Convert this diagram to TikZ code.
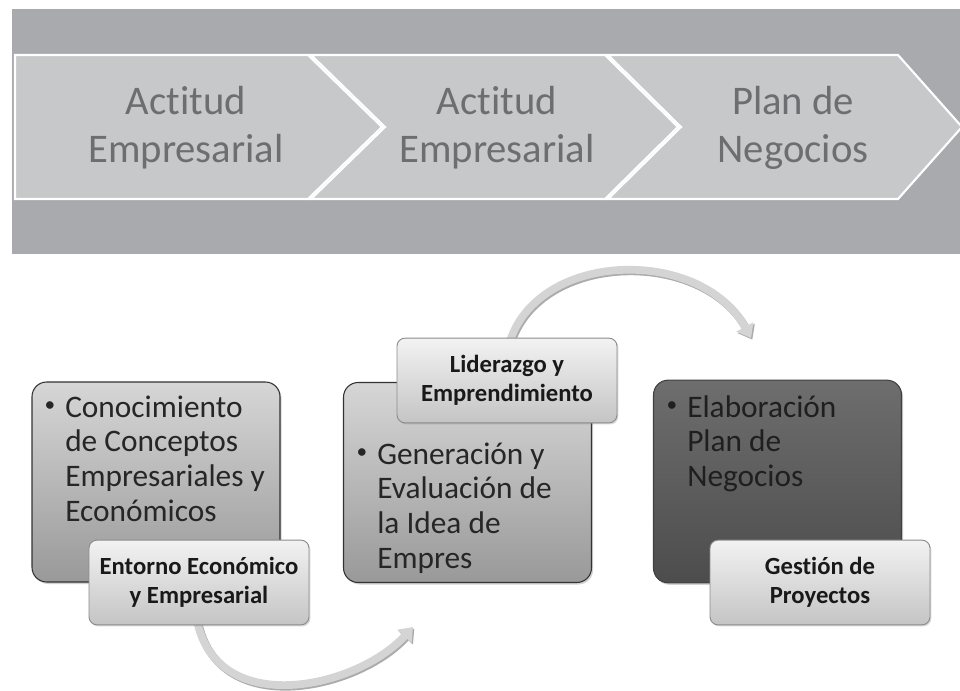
\documentclass[tikz,border=0pt]{standalone}
\usepackage{fontspec}
\setmainfont{Carlito}[Ligatures=NoCommon]
\usetikzlibrary{arrows.meta,shadows}
\definecolor{band}{HTML}{A9AAAD}
\definecolor{chev}{HTML}{C7C8CA}
\definecolor{chevtext}{HTML}{6D6E71}
\definecolor{boxtext}{HTML}{262626}
\definecolor{arrowfill}{HTML}{D4D4D4}
\definecolor{arrowedge}{HTML}{ABABAB}
\tikzset{
  chevshape/.style={fill=chev, draw=white, line width=1.6pt, line join=miter},
  chevlabel/.style={text=chevtext, font=\fontsize{30.5pt}{36pt}\selectfont, inner sep=0pt, anchor=base},
  bigbox/.style={rounded corners=11pt, line width=0.8pt, inner sep=0pt,
     minimum width=186pt, minimum height=150pt,
     drop shadow={shadow xshift=1.2pt, shadow yshift=-1.5pt, opacity=0.35}},
  lightbox/.style={bigbox, draw=black!80, top color=black!16, bottom color=black!40},
  darkbox/.style={bigbox, draw=black!75, top color=black!57, bottom color=black!70},
  boxtxt/.style={text=boxtext, font=\fontsize{23.5pt}{26pt}\selectfont, inner sep=0pt, anchor=base west},
  bullettxt/.style={text=boxtext, font=\fontsize{16pt}{16pt}\selectfont, inner sep=0pt, anchor=center},
  labelbox/.style={rounded corners=6pt, draw=black!45, line width=0.7pt,
     top color=black!5, bottom color=black!23, minimum width=165pt, minimum height=63.5pt,
     align=center, text=black!90, font=\bfseries\fontsize{18.5pt}{22pt}\selectfont, inner sep=0pt,
     drop shadow={shadow xshift=1pt, shadow yshift=-1.2pt, opacity=0.3}},
  curvearrow/.style={line width=5.8pt, draw=arrowfill, -{Triangle[width=14pt,length=9.5pt]}},
  curveshadow/.style={curvearrow, draw=arrowedge, transform canvas={shift={(1.3,1.6)}}}
}
\begin{document}
\begin{tikzpicture}[x=0.75pt,y=-0.75pt]
\useasboundingbox (0,0) rectangle (960,691);
\fill[white] (0,0) rectangle (960,691);
\begin{scope}
  \clip (0,0) rectangle (960,691);
  \fill[band] (12,9) rectangle (965,254);
  \draw[chevshape] (15,55) -- (308,55) -- (382,127) -- (308,199) -- (15,199) -- cycle;
  \draw[chevshape] (311,55) -- (605,55) -- (678,127) -- (605,199) -- (311,199) -- (385,127) -- cycle;
  \draw[chevshape] (608,55) -- (898,55) -- (962,127) -- (898,199) -- (608,199) -- (681,127) -- cycle;
\end{scope}
\node[chevlabel] (c1) at (186,115) {\parbox[t]{220pt}{\centering Actitud\\Empresarial}};
\node[chevlabel] (c2) at (497,115) {\parbox[t]{220pt}{\centering Actitud\\Empresarial}};
\node[chevlabel] (c3) at (793,115) {\parbox[t]{220pt}{\centering Plan de\\Negocios}};

% big boxes
\node[lightbox] (b1) at (156,482) {};
\node[lightbox] (b2) at (467.5,482.5) {};
\node[darkbox, minimum height=152pt] (b3) at (777.5,481.5) {};

\node[bullettxt] (b1d) at (50,407) {•};
\node[boxtxt] (b1t) at (65,417) {\parbox[t]{200pt}{\raggedright Conocimiento\\de Conceptos\\Empresariales y\\Económicos}};
\node[bullettxt] (b2d) at (362,454) {•};
\node[boxtxt] (b2t) at (377,464) {\parbox[t]{200pt}{\raggedright Generación y\\Evaluación de\\la Idea de\\Empres}};
\node[bullettxt, text=black!88] (b3d) at (672,407) {•};
\node[boxtxt, text=black!88] (b3t) at (687,417) {\parbox[t]{200pt}{\raggedright Elaboración\\Plan de\\Negocios}};

% curved arrows
\coordinate (a1s) at (196,615);
\coordinate (a1e) at (413,627);
\coordinate (a2s) at (508,348);
\coordinate (a2e) at (751,338);
\draw[curveshadow] (a1s) .. controls (212,720) and (355,690) .. (a1e);
\draw[curvearrow] (a1s) .. controls (212,720) and (355,690) .. (a1e);
\draw[curveshadow] (a2s) .. controls (532,250) and (700,245) .. (a2e);
\draw[curvearrow] (a2s) .. controls (532,250) and (700,245) .. (a2e);

% label boxes
\node[labelbox] (l1) at (199,582.5) {Entorno Económico\\y Empresarial};
\node[labelbox] (l2) at (507,380.5) {Liderazgo y\\Emprendimiento};
\node[labelbox] (l3) at (820,582.5) {Gestión de\\Proyectos};
\end{tikzpicture}
\end{document}
